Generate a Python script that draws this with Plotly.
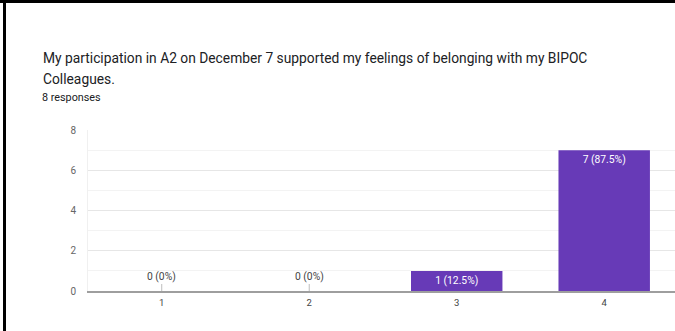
import plotly.graph_objects as go

categories = ["1", "2", "3", "4"]
counts = [0, 0, 1, 7]
y_ticks = [0, 2, 4, 6, 8]
title_line1 = "My participation in A2 on December 7 supported my feelings of belonging with my BIPOC"
title_line2 = "Colleagues."
responses_text = "8 responses"

total = sum(counts)
labels = [f"{v} ({v / total * 100:g}%)" for v in counts]

W, H = 675, 331
ML, MR, MT, MB = 88, 0, 130, 40
PW = W - ML - MR
PH = H - MT - MB


def px_x(px):
    return (px - ML) / PW


def px_y(py):
    return (H - MB - py) / PH


PURPLE = "#673AB7"
FONT = "Roboto"

fig = go.Figure()
fig.add_trace(go.Bar(
    x=categories,
    y=counts,
    marker=dict(color=PURPLE, line=dict(width=0)),
    width=0.62,
    text=[lab if v > 0 else "" for lab, v in zip(labels, counts)],
    textposition="inside",
    insidetextanchor="end",
    textangle=0,
    textfont=dict(family=FONT, size=10.3, color="white"),
    cliponaxis=False,
    hoverinfo="skip",
))

annotations = []
for i, (v, lab) in enumerate(zip(counts, labels)):
    if v == 0:
        annotations.append(dict(
            x=i, y=v, xref="x", yref="y", text=lab,
            showarrow=True, arrowhead=0, arrowwidth=1, arrowcolor="#bdbdbd",
            ax=0, ay=-15, font=dict(family=FONT, size=10.3, color="#444444"),
        ))

annotations += [
    dict(xref="paper", yref="paper", x=px_x(41), y=px_y(58), text=title_line1,
         showarrow=False, xanchor="left", yanchor="middle",
         font=dict(family=FONT, size=13.8, color="#202124")),
    dict(xref="paper", yref="paper", x=px_x(41), y=px_y(79), text=title_line2,
         showarrow=False, xanchor="left", yanchor="middle",
         font=dict(family=FONT, size=13.8, color="#202124")),
    dict(xref="paper", yref="paper", x=px_x(40), y=px_y(97), text=responses_text,
         showarrow=False, xanchor="left", yanchor="middle",
         font=dict(family=FONT, size=10.8, color="#202124")),
]

shapes = [
    dict(type="rect", xref="paper", yref="paper", x0=px_x(3), x1=px_x(6),
         y0=px_y(H), y1=px_y(0), fillcolor="black", line=dict(width=0), layer="above"),
    dict(type="rect", xref="paper", yref="paper", x0=px_x(0), x1=px_x(W),
         y0=px_y(3), y1=px_y(0), fillcolor="black", line=dict(width=0), layer="above"),
]

fig.update_layout(
    width=W, height=H,
    margin=dict(l=ML, r=MR, t=MT, b=MB, pad=0),
    paper_bgcolor="white", plot_bgcolor="white",
    showlegend=False,
    bargap=0.38,
    annotations=annotations,
    shapes=shapes,
    font=dict(family=FONT),
)
fig.update_xaxes(
    type="category", range=[-0.5, 3.48],
    showgrid=False, showline=True, linecolor="#9e9e9e", linewidth=1.5,
    ticks="outside", ticklen=2, tickcolor="rgba(0,0,0,0)",
    tickfont=dict(family=FONT, size=9.5, color="#444444"),
    zeroline=False, fixedrange=True,
)
fig.update_yaxes(
    range=[0, 8], tickvals=y_ticks,
    showgrid=True, gridcolor="#e6e6e6", gridwidth=1,
    minor=dict(dtick=1, showgrid=True, gridcolor="#f3f3f3", gridwidth=1),
    showline=True, linecolor="#f0f0f0", linewidth=1,
    zeroline=False,
    ticks="", ticklen=0, ticklabelstandoff=9,
    tickfont=dict(family=FONT, size=10, color="#666666"),
    fixedrange=True,
)

fig.write_html(
    "out.html", config={"displayModeBar": False},
    post_script="document.body.style.margin='0';document.body.style.padding='0';"
                "document.body.style.overflow='hidden';document.documentElement.style.overflow='hidden';",
)
